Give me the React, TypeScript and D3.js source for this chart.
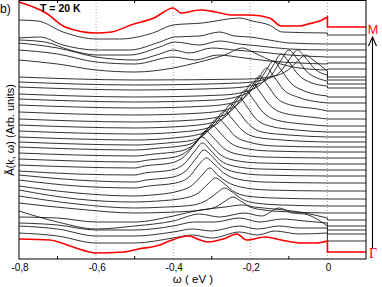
import { useEffect, useRef } from "react";
import * as d3 from "d3";

type T_Point = [number, number];

const W = 382;
const H = 287;

// axis
const omegaDomain: [number, number] = [-0.8, 0.1];
const majorTicks = [-0.8, -0.6, -0.4, -0.2, 0];
const majorLabels = ["-0,8", "-0,6", "-0,4", "-0,2", "0"];
const minorTicks = [-0.7, -0.5, -0.3, -0.1];
const gridLines = [-0.6, -0.4, -0.2, 0];

// Γ point spectrum (bottom, red)
const gammaCurve: T_Point[] = [[-0.8,2.0],[-0.72,1.9],[-0.66,1.2],[-0.6,0.6],[-0.53,0.7],[-0.49,1.0],[-0.435,1.4],[-0.41,1.8],[-0.36,2.3],[-0.33,1.9],[-0.31,1.7],[-0.27,2.0],[-0.235,2.5],[-0.21,1.9],[-0.16,2.2],[-0.12,1.9],[-0.065,1.6],[-0.03,1.6],[0,1.8]];

// spectra near Γ, lower branch of the band
const lowerCurves: T_Point[][] = [
  [[-0.8,2.6],[-0.7,2.3],[-0.6,1.6],[-0.5,1.6],[-0.4,2.1],[-0.35,2.4],[-0.3,2.1],[-0.228,2.7],[-0.181,2.4],[-0.137,2.8],[-0.073,2.5],[0,2.6]],
  [[-0.8,3.3],[-0.7,3.0],[-0.6,2.3],[-0.5,2.3],[-0.4,2.7],[-0.35,3.0],[-0.3,2.8],[-0.228,3.3],[-0.181,3.0],[-0.125,3.3],[-0.073,3.1],[0,3.1]],
  [[-0.8,3.6],[-0.7,3.4],[-0.6,2.9],[-0.5,2.9],[-0.4,3.3],[-0.345,3.7],[-0.293,3.7],[-0.228,4.1],[-0.176,3.7],[-0.117,4.0],[-0.06,3.8],[0,3.6]],
  [[-0.8,4.8],[-0.7,3.7],[-0.6,3.0],[-0.5,3.3],[-0.4,3.8],[-0.332,4.5],[-0.28,4.2],[-0.215,4.6],[-0.171,4.3],[-0.125,5.1],[-0.091,4.6],[-0.06,4.5],[0,3.3]],
  [[-0.8,4.2],[-0.7,4.1],[-0.6,3.7],[-0.5,3.7],[-0.4,4.3],[-0.33,4.9],[-0.265,5.2],[-0.22,5.4],[-0.19,5.2],[-0.137,5.0],[-0.073,4.7],[0,4.1]],
  [[-0.8,5.6],[-0.65,5.0],[-0.5,4.6],[-0.395,4.7],[-0.325,4.9],[-0.29,5.2],[-0.265,5.8],[-0.245,6.2],[-0.225,5.8],[-0.2,5.2],[-0.165,4.9],[-0.095,4.7],[0,4.6]],
  [[-0.8,6.3],[-0.65,5.5],[-0.5,5.1],[-0.417,5.2],[-0.347,5.4],[-0.312,5.9],[-0.287,6.6],[-0.267,7.1],[-0.247,6.7],[-0.222,6.0],[-0.187,5.6],[-0.117,5.4],[0,5.3]],
  [[-0.8,6.9],[-0.65,6.0],[-0.5,5.7],[-0.44,5.8],[-0.37,6.1],[-0.335,6.6],[-0.31,7.5],[-0.29,8.1],[-0.27,7.6],[-0.245,6.8],[-0.21,6.3],[-0.14,6.1],[0,6.0]],
  [[-0.8,7.3],[-0.65,6.6],[-0.5,6.3],[-0.455,6.4],[-0.385,6.8],[-0.35,7.4],[-0.325,8.4],[-0.305,9.1],[-0.285,8.4],[-0.26,7.7],[-0.225,7.2],[-0.155,6.9],[0,6.8]],
  [[-0.8,7.9],[-0.65,7.3],[-0.5,7.1],[-0.464,7.3],[-0.394,7.6],[-0.359,8.2],[-0.334,9.4],[-0.314,10.1],[-0.294,9.5],[-0.269,8.6],[-0.234,8.0],[-0.164,7.7],[0,7.6]],
  [[-0.8,8.4],[-0.65,7.9],[-0.5,7.7],[-0.47,7.9],[-0.4,8.2],[-0.365,8.9],[-0.34,10.1],[-0.32,10.9],[-0.3,10.3],[-0.275,9.3],[-0.24,8.7],[-0.17,8.4],[0,8.3]],
  [[-0.8,8.8],[-0.65,8.5],[-0.5,8.4],[-0.474,8.6],[-0.404,8.9],[-0.369,9.6],[-0.344,10.8],[-0.324,11.6],[-0.304,10.9],[-0.279,9.9],[-0.244,9.3],[-0.174,9.0],[0,8.9]],
];

// upper branch, peak dispersing toward E_F
const upperCurves: T_Point[][] = [
  [[-0.8,9.4],[-0.65,9.2],[-0.5,9.1],[-0.475,9.3],[-0.405,9.6],[-0.37,10.3],[-0.345,11.4],[-0.325,12.2],[-0.305,11.5],[-0.28,10.5],[-0.245,9.9],[-0.175,9.6],[0,9.5]],
  [[-0.8,10.0],[-0.65,9.8],[-0.5,9.7],[-0.465,9.9],[-0.395,10.2],[-0.36,10.9],[-0.335,12.0],[-0.315,12.8],[-0.295,12.1],[-0.27,11.1],[-0.235,10.5],[-0.165,10.2],[0,10.1]],
  [[-0.8,10.6],[-0.65,10.4],[-0.5,10.3],[-0.45,10.5],[-0.38,10.8],[-0.345,11.5],[-0.32,12.6],[-0.3,13.4],[-0.28,12.7],[-0.255,11.7],[-0.22,11.1],[-0.15,10.8],[0,10.7]],
  [[-0.8,11.2],[-0.65,11.0],[-0.5,10.9],[-0.435,11.1],[-0.365,11.4],[-0.33,12.1],[-0.305,13.3],[-0.285,14.1],[-0.265,13.4],[-0.24,12.3],[-0.205,11.7],[-0.135,11.3],[0,11.2]],
  [[-0.8,11.7],[-0.65,11.5],[-0.5,11.4],[-0.417,11.6],[-0.347,11.9],[-0.312,12.7],[-0.287,14.0],[-0.267,14.8],[-0.247,14.0],[-0.222,12.9],[-0.187,12.2],[-0.117,11.9],[0,11.7]],
  [[-0.8,12.2],[-0.65,12.0],[-0.5,11.9],[-0.4,12.1],[-0.33,12.5],[-0.295,13.3],[-0.27,14.6],[-0.25,15.5],[-0.23,14.7],[-0.205,13.5],[-0.17,12.7],[-0.1,12.4],[0,12.2]],
  [[-0.8,12.8],[-0.65,12.6],[-0.5,12.5],[-0.38,12.7],[-0.31,13.1],[-0.275,13.9],[-0.25,15.3],[-0.23,16.2],[-0.21,15.3],[-0.185,14.0],[-0.15,13.3],[-0.08,12.9],[0,12.7]],
  [[-0.8,13.4],[-0.65,13.2],[-0.5,13.1],[-0.363,13.3],[-0.293,13.7],[-0.258,14.5],[-0.233,16.0],[-0.213,16.9],[-0.193,16.0],[-0.168,14.7],[-0.133,13.9],[-0.063,13.5],[0,13.3]],
  [[-0.8,14.0],[-0.65,13.8],[-0.5,13.7],[-0.345,13.9],[-0.275,14.3],[-0.24,15.2],[-0.215,16.6],[-0.195,17.6],[-0.175,16.7],[-0.15,15.4],[-0.115,14.6],[-0.045,14.2],[0,14.0]],
  [[-0.8,14.7],[-0.65,14.5],[-0.5,14.4],[-0.326,14.6],[-0.256,15.0],[-0.221,15.9],[-0.196,17.3],[-0.176,18.3],[-0.156,17.4],[-0.131,16.1],[-0.096,15.4],[-0.026,15.0],[0,14.8]],
  [[-0.8,15.4],[-0.65,15.2],[-0.5,15.1],[-0.308,15.3],[-0.238,15.7],[-0.203,16.6],[-0.178,18.1],[-0.158,19.1],[-0.138,18.2],[-0.113,16.9],[-0.078,16.2],[0,15.6]],
  [[-0.8,16.0],[-0.65,15.8],[-0.5,15.7],[-0.29,15.9],[-0.22,16.4],[-0.185,17.3],[-0.16,18.8],[-0.14,19.8],[-0.12,18.9],[-0.095,17.6],[-0.06,16.8],[0,16.3]],
  [[-0.8,16.5],[-0.65,16.3],[-0.5,16.2],[-0.27,16.4],[-0.2,16.9],[-0.165,17.8],[-0.14,19.4],[-0.12,20.5],[-0.1,19.7],[-0.075,18.4],[-0.04,17.6],[0,17.3]],
  [[-0.8,17.2],[-0.65,17.0],[-0.5,16.9],[-0.25,17.1],[-0.18,17.5],[-0.145,18.4],[-0.12,19.9],[-0.1,20.9],[-0.08,20.1],[-0.055,18.8],[-0.02,18.0],[0,17.8]],
  [[-0.8,17.7],[-0.65,17.5],[-0.5,17.4],[-0.228,17.6],[-0.158,18.0],[-0.123,18.7],[-0.098,20.0],[-0.078,20.9],[-0.058,20.2],[-0.033,19.0],[0,18.4]],
  [[-0.8,18.2],[-0.65,18.0],[-0.5,17.9],[-0.207,18.0],[-0.137,18.3],[-0.102,18.9],[-0.077,19.8],[-0.057,20.4],[-0.037,19.9],[0,18.8]],
];

// broad spectra near M
const topCurves: T_Point[][] = [
  [[-0.8,19.9],[-0.7,19.5],[-0.6,18.9],[-0.5,18.7],[-0.4,19.1],[-0.332,19.7],[-0.267,20.4],[-0.22,21.1],[-0.189,20.6],[-0.137,19.7],[-0.073,19.1],[0,18.9]],
  [[-0.8,20.9],[-0.7,20.5],[-0.6,19.7],[-0.5,19.5],[-0.4,20.2],[-0.343,19.9],[-0.285,20.4],[-0.215,20.1],[-0.151,19.8],[-0.073,19.6],[0,19.5]],
  [[-0.8,21.6],[-0.7,21.1],[-0.6,20.2],[-0.5,19.9],[-0.435,20.5],[-0.4,20.9],[-0.358,20.6],[-0.3,21.1],[-0.241,20.9],[-0.176,20.7],[-0.099,20.4],[0,20.2]],
  [[-0.8,21.9],[-0.733,21.7],[-0.668,20.9],[-0.598,20.4],[-0.513,20.4],[-0.435,21.2],[-0.396,21.7],[-0.332,21.4],[-0.28,21.8],[-0.228,21.5],[-0.176,21.3],[-0.099,21.0],[0,20.9]],
  [[-0.8,22.1],[-0.746,22.2],[-0.686,21.4],[-0.598,20.9],[-0.513,20.9],[-0.435,21.7],[-0.396,22.2],[-0.332,22.3],[-0.28,22.7],[-0.241,22.3],[-0.202,22.2],[-0.151,21.9],[-0.099,21.6],[0,21.5]],
  [[-0.8,23.9],[-0.751,23.8],[-0.686,22.7],[-0.598,22.0],[-0.539,22.0],[-0.453,22.6],[-0.4,23.4],[-0.324,23.6],[-0.228,24.1],[-0.195,23.8],[-0.151,23.4],[-0.117,22.7],[0,22.6]],
];

// M point spectrum (top, red)
const mCurve: T_Point[] = [[-0.8,25.7],[-0.73,24.6],[-0.68,23.2],[-0.6,22.6],[-0.56,22.7],[-0.51,23.4],[-0.45,24.1],[-0.4,25.1],[-0.38,24.6],[-0.33,24.9],[-0.29,24.7],[-0.25,24.4],[-0.2,24.4],[-0.15,24.1],[-0.12,23.3],[-0.07,23.3],[-0.05,23.5],[-0.02,23.8],[0,24.2]];

// level of each spectrum above E_F (bottom -> top)
const rightLevels = [0.7, 1.8, 2.5, 2.9, 3.3, 3.9, 4.6, 5.3, 6.0, 6.8, 7.6, 8.3, 8.9, 9.5, 10.1, 10.7, 11.2, 11.7, 12.2, 12.7, 13.3, 14.0, 14.8, 15.6, 16.2, 17.1, 17.5, 17.9, 18.2, 19.0, 19.6, 20.2, 20.9, 21.5, 22.4, 23.2];

export default function App() {
  const svgRef = useRef<SVGSVGElement>(null);

  useEffect(() => {
    if (!svgRef.current) return;

    const margin = { top: 0, right: 16, bottom: 28, left: 19 };
    const width = W - margin.left - margin.right;
    const height = H - margin.top - margin.bottom;

    const svg = d3.select(svgRef.current);
    svg.selectAll("*").remove();
    svg.attr("width", W).attr("height", H).attr("viewBox", `0 0 ${W} ${H}`);

    const font = "'Liberation Sans', Arial, sans-serif";

    const x = d3.scaleLinear().domain(omegaDomain).range([margin.left, margin.left + width]);
    const y = d3.scaleLinear().domain([0, 25.9]).range([margin.top + height, margin.top]);

    svg.append("rect").attr("width", W).attr("height", H).attr("fill", "white");

    // dotted reference lines
    svg
      .selectAll(".grid")
      .data(gridLines)
      .enter()
      .append("line")
      .attr("x1", (d) => x(d))
      .attr("x2", (d) => x(d))
      .attr("y1", margin.top)
      .attr("y2", margin.top + height)
      .attr("stroke", "#777")
      .attr("stroke-width", 0.7)
      .attr("stroke-dasharray", "1,2");

    const line = d3
      .line<T_Point>()
      .x((d) => x(d[0]))
      .y((d) => y(d[1]))
      .curve(d3.curveMonotoneX);

    const allCurves = [gammaCurve, ...lowerCurves, ...upperCurves, ...topCurves, mCurve];
    const last = allCurves.length - 1;

    const pathFor = (pts: T_Point[], i: number) =>
      `${line(pts)}L${x(0)},${y(rightLevels[i])}L${x(0.1)},${y(rightLevels[i])}`;

    // black spectra
    svg
      .append("g")
      .selectAll("path")
      .data(allCurves.map((c, i) => ({ c, i })).filter((d) => d.i !== 0 && d.i !== last))
      .enter()
      .append("path")
      .attr("d", (d) => pathFor(d.c, d.i))
      .attr("fill", "none")
      .attr("stroke", "#1c1c1c")
      .attr("stroke-width", 0.9);

    // red spectra at Γ and M
    svg
      .append("g")
      .selectAll("path")
      .data([0, last])
      .enter()
      .append("path")
      .attr("d", (i) => pathFor(allCurves[i], i))
      .attr("fill", "none")
      .attr("stroke", "#ff0000")
      .attr("stroke-width", 1.6);

    // frame
    svg
      .append("rect")
      .attr("x", margin.left)
      .attr("y", margin.top + 0.5)
      .attr("width", width)
      .attr("height", height - 0.5)
      .attr("fill", "none")
      .attr("stroke", "black")
      .attr("stroke-width", 1);

    // minor ticks, top and bottom
    minorTicks.forEach((t) => {
      svg.append("line").attr("x1", x(t)).attr("x2", x(t)).attr("y1", margin.top + height).attr("y2", margin.top + height - 3).attr("stroke", "black");
      svg.append("line").attr("x1", x(t)).attr("x2", x(t)).attr("y1", margin.top).attr("y2", margin.top + 3).attr("stroke", "black");
    });

    // tick labels
    svg
      .selectAll(".tl")
      .data(majorTicks)
      .enter()
      .append("text")
      .attr("x", (d) => x(d) + 1)
      .attr("y", margin.top + height + 12)
      .attr("text-anchor", "middle")
      .style("font-family", font)
      .style("font-size", "10px")
      .text((_d, i) => majorLabels[i]);

    svg
      .append("text")
      .attr("x", 193)
      .attr("y", H - 4)
      .attr("text-anchor", "middle")
      .style("font-family", font)
      .style("font-size", "11.5px")
      .text("ω ( eV )");

    svg
      .append("text")
      .attr("transform", `translate(14,${margin.top + 130}) rotate(-90)`)
      .attr("text-anchor", "middle")
      .style("font-family", font)
      .style("font-size", "11px")
      .text("Ã(k, ω) (Arb. units)");

    svg
      .append("text")
      .attr("x", 0)
      .attr("y", 13)
      .style("font-family", font)
      .style("font-size", "12px")
      .text("b)");

    svg
      .append("text")
      .attr("x", 40)
      .attr("y", 12)
      .style("font-family", font)
      .style("font-size", "10.5px")
      .style("font-weight", "bold")
      .text("T = 20 K");

    // k-path arrow Γ -> M
    const ax = 372.5;
    svg.append("line").attr("x1", ax).attr("x2", ax).attr("y1", 249).attr("y2", 37).attr("stroke", "black").attr("stroke-width", 1.1);
    svg
      .append("path")
      .attr("d", `M${ax - 4},${46}L${ax},${37}L${ax + 4},${46}`)
      .attr("fill", "none")
      .attr("stroke", "black")
      .attr("stroke-width", 1.1);

    svg
      .append("text")
      .attr("x", 373)
      .attr("y", 34)
      .attr("text-anchor", "middle")
      .attr("fill", "#ff0000")
      .style("font-family", font)
      .style("font-size", "12.5px")
      .text("M");

    svg
      .append("text")
      .attr("x", 373)
      .attr("y", 258)
      .attr("text-anchor", "middle")
      .attr("fill", "#ff0000")
      .style("font-family", "'Liberation Serif', 'Times New Roman', serif")
      .style("font-size", "14px")
      .text("Γ");
  }, []);

  return (
    <div style={{ position: "absolute", left: 0, top: 0, width: W, height: H }}>
      <svg ref={svgRef} style={{ display: "block" }} />
    </div>
  );
}
